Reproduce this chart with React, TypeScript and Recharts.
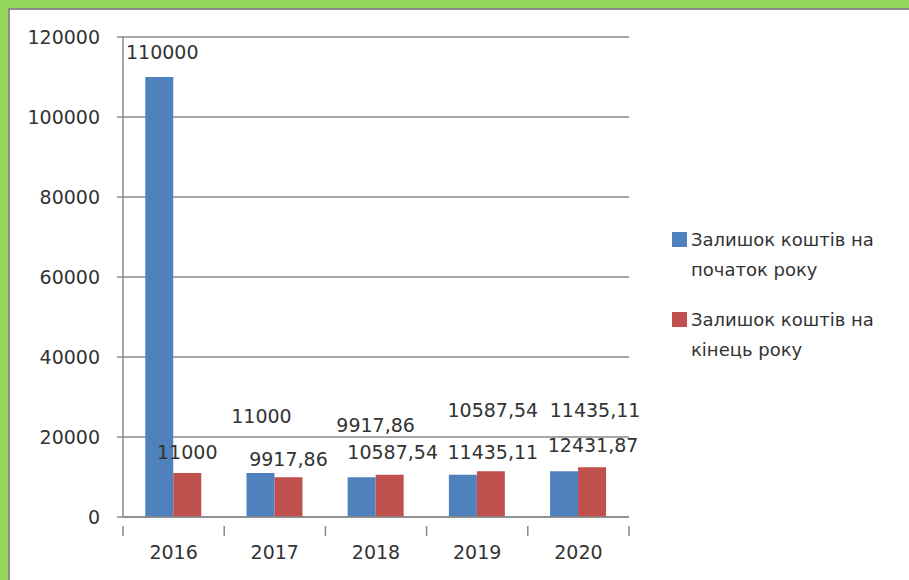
import { BarChart, Bar, XAxis, YAxis, CartesianGrid, LabelList } from "recharts";

// ---------------------------------------------------------------------------
// Data
// ---------------------------------------------------------------------------

const years = ["2016", "2017", "2018", "2019", "2020"];
const startBalance = [110000, 11000, 9917.86, 10587.54, 11435.11];
const endBalance = [11000, 9917.86, 10587.54, 11435.11, 12431.87];
const yTicks = [0, 20000, 40000, 60000, 80000, 100000, 120000];

const startName = "Залишок коштів на початок року";
const endName = "Залишок коштів на кінець року";

const data = years.map((year, i) => ({
  year,
  start: startBalance[i],
  end: endBalance[i],
}));

// label placement tweaks (dx, dy from bar top centre), like the dragged Excel labels
const startLabelShift = [
  [3, -25],
  [1, -57],
  [14, -52],
  [30, -65],
  [31, -61],
];
const endLabelShift = [
  [0, -21],
  [0, -18],
  [3, -23],
  [2, -19],
  [1, -22],
];

// ---------------------------------------------------------------------------
// Styles
// ---------------------------------------------------------------------------

const BLUE = "#4f81bd";
const RED = "#c0504d";
const GRID = "#8a8a8a";
const TEXT = "#333333";
const FONT = "DejaVu Sans, sans-serif";
const GREEN = "#94d65a";

const fmt = (v: number) => String(v).replace(".", ",");

function makeLabel(shifts: number[][]) {
  return (props: any) => {
    const { x, y, width, value, index } = props;
    const [dx, dy] = shifts[index] ?? [0, -20];
    return (
      <text
        x={Number(x) + Number(width) / 2 + dx}
        y={Number(y) + dy}
        textAnchor="middle"
        dominantBaseline="central"
        fontFamily={FONT}
        fontSize={19}
        fill={TEXT}
      >
        {fmt(Number(value))}
      </text>
    );
  };
}

function CategoryTick(props: any) {
  const { x, y, payload, index } = props;
  const half = payload?.offset ?? 0;
  const last = index === years.length - 1;
  return (
    <g>
      <line x1={x - half} y1={y - 19} x2={x - half} y2={y - 9} stroke={GRID} strokeWidth={1.5} />
      {last && (
        <line x1={x + half} y1={y - 19} x2={x + half} y2={y - 9} stroke={GRID} strokeWidth={1.5} />
      )}
      <text
        x={x}
        y={y + 7}
        textAnchor="middle"
        dominantBaseline="central"
        fontFamily={FONT}
        fontSize={19}
        fill={TEXT}
      >
        {payload.value}
      </text>
    </g>
  );
}

function LegendItem({ color, name }: { color: string; name: string }) {
  const words = name.split(" ");
  const line1 = words.slice(0, 3).join(" ");
  const line2 = words.slice(3).join(" ");
  return (
    <div style={{ position: "relative", height: 60, marginBottom: 20 }}>
      <div
        style={{
          position: "absolute",
          left: 0,
          top: 7,
          width: 15,
          height: 15,
          background: color,
        }}
      />
      <div
        style={{
          position: "absolute",
          left: 19,
          top: 0,
          lineHeight: "30px",
          fontFamily: FONT,
          fontSize: 18,
          color: TEXT,
          whiteSpace: "nowrap",
        }}
      >
        <div>{line1}</div>
        <div>{line2}</div>
      </div>
    </div>
  );
}

// ---------------------------------------------------------------------------
// Component
// ---------------------------------------------------------------------------

export default function App() {
  return (
    <div
      style={{
        position: "fixed",
        left: 0,
        top: 0,
        width: 909,
        height: 580,
        background: "#ffffff",
        overflow: "hidden",
      }}
    >
      {/* green frame */}
      <div style={{ position: "absolute", left: 0, top: 0, width: 909, height: 8, background: GREEN }} />
      <div style={{ position: "absolute", left: 0, top: 0, width: 8, height: 580, background: GREEN }} />
      <div style={{ position: "absolute", left: 8, top: 8, width: 901, height: 2, background: "#8c8c8c" }} />
      <div style={{ position: "absolute", left: 8, top: 8, width: 2, height: 572, background: "#8c8c8c" }} />

      <div style={{ position: "absolute", left: 0, top: 0 }}>
        <BarChart
          width={909}
          height={580}
          data={data}
          margin={{ top: 37, right: 280, bottom: 0, left: 0 }}
          barCategoryGap="22%"
          barGap={0}
        >
          <CartesianGrid
            horizontal
            vertical={false}
            stroke={GRID}
            strokeWidth={1.5}
          />
          <XAxis
            dataKey="year"
            height={63}
            axisLine={{ stroke: GRID, strokeWidth: 1.5 }}
            tickLine={false}
            tickSize={9}
            tickMargin={19}
            tick={<CategoryTick />}
            interval={0}
          />
          <YAxis
            width={123}
            domain={[0, 120000]}
            ticks={yTicks}
            interval={0}
            axisLine={{ stroke: GRID, strokeWidth: 1.5 }}
            tickLine={{ stroke: GRID, strokeWidth: 1.5 }}
            tickSize={6}
            tickMargin={17}
            tick={{ fontFamily: FONT, fontSize: 19, fill: TEXT }}
          />
          <Bar dataKey="start" name={startName} fill={BLUE} isAnimationActive={false}>
            <LabelList dataKey="start" content={makeLabel(startLabelShift)} />
          </Bar>
          <Bar dataKey="end" name={endName} fill={RED} isAnimationActive={false}>
            <LabelList dataKey="end" content={makeLabel(endLabelShift)} />
          </Bar>
        </BarChart>
      </div>

      <div style={{ position: "absolute", left: 672, top: 225 }}>
        <LegendItem color={BLUE} name={startName} />
        <LegendItem color={RED} name={endName} />
      </div>
    </div>
  );
}
